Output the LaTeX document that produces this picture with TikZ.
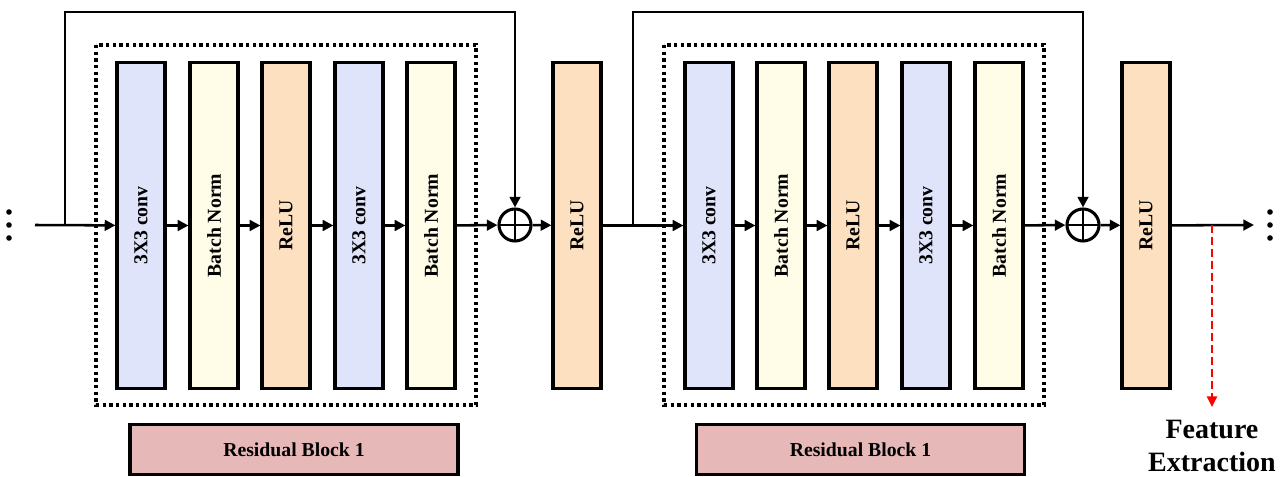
\documentclass[tikz,border=0pt]{standalone}
\usepackage{fontspec}
\setmainfont{Liberation Serif}
\usetikzlibrary{arrows.meta}

\definecolor{convblue}{RGB}{224,228,250}
\definecolor{normcream}{RGB}{255,253,232}
\definecolor{relupeach}{RGB}{252,224,192}
\definecolor{blockrose}{RGB}{230,184,183}

\tikzset{
  layer/.style={draw=black, line width=2.4pt, minimum width=36pt, minimum height=245pt,
    inner sep=0pt},
  lbl/.style={rotate=90, font=\bfseries\fontsize{14.8}{16}\selectfont},
  conv/.style={layer, fill=convblue},
  bnorm/.style={layer, fill=normcream},
  relu/.style={layer, fill=relupeach},
  blocktag/.style={draw=black, line width=2.4pt, fill=blockrose, minimum width=246pt,
    minimum height=37pt, inner sep=0pt, font=\bfseries\fontsize{14.8}{16}\selectfont},
  flow/.style={line width=1.9pt, -{Triangle[length=8pt,width=8pt]}},
  skipline/.style={line width=2pt, -{Triangle[length=8pt,width=8pt]}},
  dottedframe/.style={line width=2.4pt, dash pattern=on 2.4pt off 2.6pt},
  sumnode/.style={circle, draw=black, line width=2.3pt, minimum size=24pt, inner sep=0pt,
    path picture={\draw[line width=2pt] (path picture bounding box.north) -- (path picture bounding box.south)
      (path picture bounding box.west) -- (path picture bounding box.east);}},
  dotmark/.style={circle, fill=black, minimum size=4.2pt, inner sep=0pt},
}

\begin{document}
\begin{tikzpicture}[x=0.75pt, y=-0.75pt]
\useasboundingbox (0,0) rectangle (1285,477);

% dotted frames around the residual blocks
\draw[dottedframe] (96,45) rectangle (476,405);
\draw[dottedframe] (664,45) rectangle (1044,405);

% first residual block
\node[conv]  (a1) at (141,225.5) {}; \node[lbl] at (a1) {3X3 conv};
\node[bnorm] (a2) at (214,225.5) {}; \node[lbl] at (a2) {Batch Norm};
\node[relu]  (a3) at (286,225.5) {}; \node[lbl] at (a3) {ReLU};
\node[conv]  (a4) at (359,225.5) {}; \node[lbl] at (a4) {3X3 conv};
\node[bnorm] (a5) at (431,225.5) {}; \node[lbl] at (a5) {Batch Norm};
\node[sumnode] (s1) at (515,225) {};
\node[relu]  (r1) at (577,225.5) {}; \node[lbl] at (r1) {ReLU};

% second residual block
\node[conv]  (b1) at (709,225.5) {}; \node[lbl] at (b1) {3X3 conv};
\node[bnorm] (b2) at (781,225.5) {}; \node[lbl] at (b2) {Batch Norm};
\node[relu]  (b3) at (853,225.5) {}; \node[lbl] at (b3) {ReLU};
\node[conv]  (b4) at (926,225.5) {}; \node[lbl] at (b4) {3X3 conv};
\node[bnorm] (b5) at (999,225.5) {}; \node[lbl] at (b5) {Batch Norm};
\node[sumnode] (s2) at (1083,225) {};
\node[relu]  (r2) at (1146,225.5) {}; \node[lbl] at (r2) {ReLU};

% block captions
\node[blocktag] (t1) at (294,449.5) {Residual Block 1};
\node[blocktag] (t2) at (860.5,449.5) {Residual Block 1};

% continuation dots
\node[dotmark] (dl1) at (9,212) {};
\node[dotmark] (dl2) at (9,225) {};
\node[dotmark] (dl3) at (9,238) {};
\node[dotmark] (dr1) at (1270,212) {};
\node[dotmark] (dr2) at (1270,225) {};
\node[dotmark] (dr3) at (1270,238) {};

% connection points
\coordinate (in)  at (35,225);
\coordinate (out) at (1254,225);
\coordinate (br1) at (65,225);
\coordinate (up1) at (515,12);
\coordinate (br2) at (633,225);
\coordinate (up2) at (1083,12);
\coordinate (tap) at (1212,225);
\coordinate (tapend) at (1212,407);

% main data path
\draw[flow] (in) -- (a1);
\draw[flow] (a1) -- (a2);
\draw[flow] (a2) -- (a3);
\draw[flow] (a3) -- (a4);
\draw[flow] (a4) -- (a5);
\draw[flow] (a5) -- (s1);
\draw[flow] (s1) -- (r1);
\draw[flow] (r1) -- (b1);
\draw[flow] (b1) -- (b2);
\draw[flow] (b2) -- (b3);
\draw[flow] (b3) -- (b4);
\draw[flow] (b4) -- (b5);
\draw[flow] (b5) -- (s2);
\draw[flow] (s2) -- (r2);
\draw[flow] (r2) -- (out);

% identity shortcuts
\draw[skipline] (br1) |- (up1) -- (s1);
\draw[skipline] (br2) |- (up2) -- (s2);

% feature tap
\draw[red, line width=1.8pt, dash pattern=on 6pt off 3pt,
  -{Triangle[length=8pt,width=7.5pt]}] (tap) -- (tapend);
\node[font=\bfseries\fontsize{21}{24.5}\selectfont, align=center] (fe) at (1212,446)
  {Feature\\Extraction};
\end{tikzpicture}
\end{document}
